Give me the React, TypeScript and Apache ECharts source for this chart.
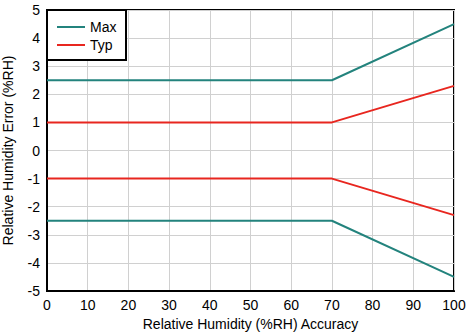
import React, { useEffect, useRef } from "react";
import * as echarts from "echarts";

const xTicks = [0, 10, 20, 30, 40, 50, 60, 70, 80, 90, 100];
const maxUpperX = [0, 70, 100];
const maxUpperY = [2.5, 2.5, 4.5];
const maxLowerY = [-2.5, -2.5, -4.5];
const typUpperY = [1, 1, 2.3];
const typLowerY = [-1, -1, -2.3];

const TEAL = "#23837d";
const RED = "#e8261f";
const FONT = "Liberation Sans, Arial, sans-serif";

const pairs = (xs: number[], ys: number[]) => xs.map((x, i) => [x, ys[i]]);

export default function App() {
  const ref = useRef<HTMLDivElement>(null);
  useEffect(() => {
    if (!ref.current) return;
    const chart = echarts.init(ref.current, null, { renderer: "svg" });
    const lineSeries = (name: string, color: string, ys: number[]) => ({
      name,
      type: "line",
      data: pairs(maxUpperX, ys),
      symbol: "none",
      lineStyle: { color, width: 2 },
      itemStyle: { color },
      z: 3,
    });
    chart.setOption({
      animation: false,
      backgroundColor: "#fff",
      grid: {
        left: 47,
        right: 15,
        top: 10,
        bottom: 42,
        show: true,
        borderColor: "#000",
        borderWidth: 2,
        containLabel: false,
        outerBoundsMode: "none",
      },
      xAxis: {
        type: "value",
        min: xTicks[0],
        max: xTicks[xTicks.length - 1],
        interval: 10,
        name: "Relative Humidity (%RH) Accuracy",
        nameLocation: "middle",
        nameGap: 26,
        nameTextStyle: { fontFamily: FONT, fontSize: 14, color: "#000" },
        axisLine: { show: true, onZero: false, lineStyle: { color: "#000", width: 2 } },
        axisTick: { show: false },
        axisLabel: { fontFamily: FONT, fontSize: 14, color: "#000", margin: 7 },
        splitLine: { show: true, lineStyle: { color: "#d0d0d0", width: 1 } },
      },
      yAxis: {
        type: "value",
        min: -5,
        max: 5,
        interval: 1,
        name: "Relative Humidity Error (%RH)",
        nameLocation: "middle",
        nameGap: 32,
        nameTextStyle: { fontFamily: FONT, fontSize: 14, color: "#000" },
        axisLine: { show: true, onZero: false, lineStyle: { color: "#000", width: 2 } },
        axisTick: { show: false },
        axisLabel: { fontFamily: FONT, fontSize: 14, color: "#000", margin: 7 },
        splitLine: { show: true, lineStyle: { color: "#d0d0d0", width: 1 } },
      },
      graphic: [
        {
          type: "rect",
          z: 5,
          shape: { x: 47, y: 10, width: 79, height: 50 },
          style: { fill: "#fff", stroke: "#000", lineWidth: 2 },
        },
      ],
      legend: {
        orient: "vertical",
        left: 52,
        top: 15,
        z: 10,
        itemWidth: 28,
        itemHeight: 10,
        itemGap: 4,
        data: [
          { name: "Max", icon: "path://M0,4L28,4L28,6L0,6Z" },
          { name: "Typ", icon: "path://M0,4L28,4L28,6L0,6Z" },
        ],
        textStyle: { fontFamily: FONT, fontSize: 14, color: "#000" },
      },
      series: [
        lineSeries("Max", TEAL, maxUpperY),
        lineSeries("Max", TEAL, maxLowerY),
        lineSeries("Typ", RED, typUpperY),
        lineSeries("Typ", RED, typLowerY),
      ],
    });
    return () => chart.dispose();
  }, []);
  return (
    <div
      ref={ref}
      style={{ position: "fixed", left: 0, top: 0, width: 469, height: 333 }}
    />
  );
}
